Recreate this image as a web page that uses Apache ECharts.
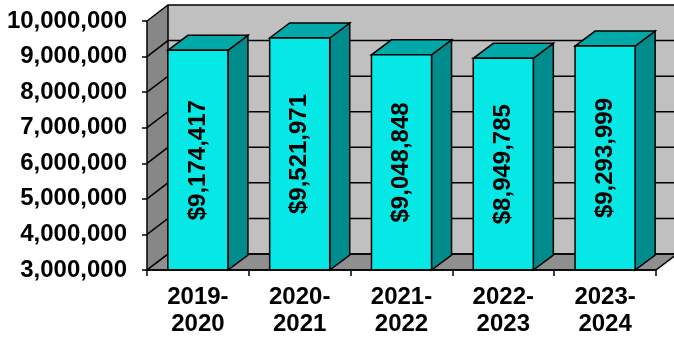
<!DOCTYPE html>
<html><head><meta charset="utf-8">
<script src="https://cdn.jsdelivr.net/npm/echarts@6/dist/echarts.min.js"></script>
<style>html,body{margin:0;padding:0;background:#fff}#c{width:674px;height:339px}</style>
</head><body><div id="c"></div>
<script>
const categories = ['2019-\n2020', '2020-\n2021', '2021-\n2022', '2022-\n2023', '2023-\n2024'];
const values = [9174417, 9521971, 9048848, 8949785, 9293999];
const yTicks = [3000000, 4000000, 5000000, 6000000, 7000000, 8000000, 9000000, 10000000];
const Y_MIN = 3000000, Y_MAX = 10000000, Y_STEP = 1000000;

const FONT = "'Liberation Sans', Arial, sans-serif";
const WDX = 21, WDY = -16;   // wall depth offset
const BDX = 20, BDY = -15;   // bar depth offset
const EDGE = '#000';

function money(v){ return '$' + String(v).replace(/\B(?=(\d{3})+(?!\d))/g, ','); }

const chart = echarts.init(document.getElementById('c'), null, {renderer:'canvas'});

function wallsRender(params, api){
  const cs = params.coordSys;
  const yTop = api.coord([0, Y_MAX])[1];
  const yBot = api.coord([0, Y_MIN])[1];
  const xL = cs.x, xR = cs.x + cs.width;
  const far = xR + WDX + 40;
  return {type:'group', children:[
    {type:'polygon', shape:{points:[[xL+WDX,yTop+WDY],[far,yTop+WDY],[far,yBot+WDY],[xL+WDX,yBot+WDY]]},
     style:{fill:'#c0c0c0', stroke:null}},
    {type:'polygon', shape:{points:[[xL,yTop],[xL+WDX,yTop+WDY],[xL+WDX,yBot+WDY],[xL,yBot]]},
     style:{fill:'#878787', stroke:null}},
    {type:'polygon', shape:{points:[[xL,yBot],[xR,yBot],[xR+WDX,yBot+WDY],[xL+WDX,yBot+WDY]]},
     style:{fill:'#8f8f8f', stroke:EDGE, lineWidth:1.5}},
    {type:'line', shape:{x1:xL+WDX,y1:yTop+WDY,x2:xL+WDX,y2:yBot+WDY}, style:{stroke:EDGE, lineWidth:1.5}}
  ]};
}

function gridRender(params, api){
  const cs = params.coordSys;
  const y = api.coord([0, api.value(0)])[1];
  const xL = cs.x, xR = cs.x + cs.width;
  return {type:'polyline', shape:{points:[[xL,y],[xL+WDX,y+WDY],[xR+WDX+40,y+WDY]]},
          style:{stroke:EDGE, lineWidth:1.5, fill:null}};
}

function barRender(params, api){
  const xi = api.value(0), v = api.value(1);
  const top = api.coord([xi, v]);
  const base = api.coord([xi, Y_MIN]);
  const bw = api.size([1, 0])[0] * 0.59;
  const x0 = top[0] - bw/2, y0 = top[1], yb = base[1];
  const lw = 1.5;
  return {type:'group', children:[
    {type:'polygon', shape:{points:[[x0+bw,y0],[x0+bw+BDX,y0+BDY],[x0+bw+BDX,yb+BDY],[x0+bw,yb]]},
     style:{fill:'#008c8c', stroke:EDGE, lineWidth:lw}},
    {type:'polygon', shape:{points:[[x0,y0],[x0+bw,y0],[x0+bw+BDX,y0+BDY],[x0+BDX,y0+BDY]]},
     style:{fill:'#00a8a8', stroke:EDGE, lineWidth:lw}},
    {type:'rect', shape:{x:x0, y:y0, width:bw, height:yb-y0},
     style:{fill:'#05e8e6', stroke:EDGE, lineWidth:lw}},
    {type:'text', x: top[0], y: (y0+yb)/2, rotation: Math.PI/2,
     style:{text: money(v), fill:'#000', font:'bold 24px ' + FONT, align:'center', verticalAlign:'middle'}}
  ]};
}

chart.setOption({
  animation:false,
  grid:{left:147, right:18, top:21, bottom:69, containLabel:false},
  xAxis:{type:'category', data:categories,
    axisLine:{show:true, lineStyle:{color:'#000', width:1.5}},
    axisTick:{show:true, length:6, lineStyle:{color:'#000', width:1.5}},
    axisLabel:{color:'#000', fontFamily:FONT, fontWeight:'bold', fontSize:24, lineHeight:27, margin:14, interval:0},
    splitLine:{show:false}, z:10},
  yAxis:{type:'value', min:Y_MIN, max:Y_MAX, interval:Y_STEP,
    axisLine:{show:true, lineStyle:{color:'#000', width:1.5}},
    axisTick:{show:true, length:5, lineStyle:{color:'#000', width:1.5}},
    axisLabel:{color:'#000', fontFamily:FONT, fontWeight:'bold', fontSize:24, margin:20,
      formatter: v => String(v).replace(/\B(?=(\d{3})+(?!\d))/g, ',')},
    splitLine:{show:false}, z:10},
  series:[
    {type:'custom', renderItem:wallsRender, data:[[0]], clip:false, z:1, silent:true},
    {type:'custom', renderItem:gridRender, data:yTicks.map(t=>[t]), clip:false, z:2, silent:true},
    {type:'custom', renderItem:barRender, data:values.map((v,i)=>[i,v]), clip:false, z:3,
     encode:{x:0, y:1}}
  ]
});
</script></body></html>
